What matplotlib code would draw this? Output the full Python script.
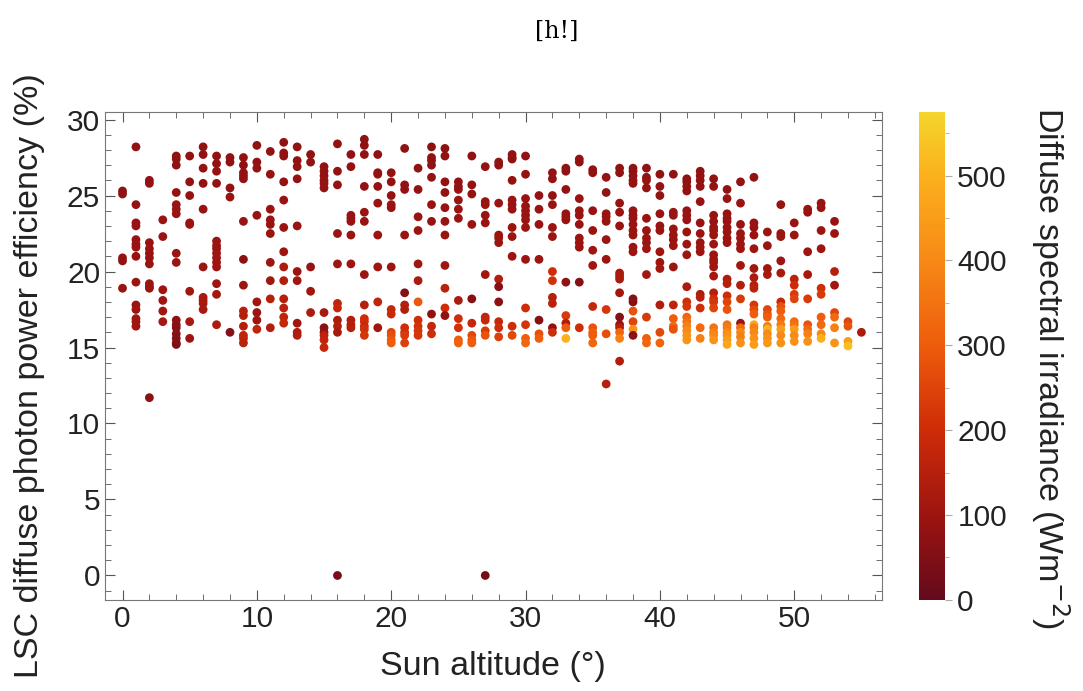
import matplotlib
matplotlib.use("Agg")
import matplotlib.pyplot as plt
from matplotlib.colors import LinearSegmentedColormap
from matplotlib.ticker import MultipleLocator

# sun altitude columns (deg)
sun_altitude = list(range(56))

# LSC diffuse photon power efficiency (%) per altitude column
efficiency = [
    [25.3, 25.1, 20.9, 20.7, 18.9],
    [28.2, 24.4, 23.2, 23.0, 22.1, 21.8, 21.6, 21.0, 19.3, 17.8, 17.5, 16.9, 16.7, 16.4],
    [26.0, 25.8, 21.9, 21.5, 21.2, 20.9, 20.5, 19.2, 19.0, 18.9, 11.7],
    [23.4, 22.3, 18.8, 18.1, 17.4, 16.7],
    [27.6, 27.4, 27.0, 25.2, 24.4, 24.1, 23.8, 21.2, 20.6, 16.8, 16.5, 16.3, 15.9, 15.6, 15.3, 15.2],
    [27.6, 25.9, 25.0, 23.2, 23.1, 18.7, 16.7, 15.6],
    [28.2, 27.7, 26.8, 25.8, 24.1, 20.3, 18.3, 18.1, 17.9, 17.5],
    [27.6, 27.1, 26.6, 25.8, 22.0, 21.7, 21.5, 21.2, 20.9, 20.6, 20.3, 19.2, 18.5, 16.5],
    [27.5, 27.2, 25.5, 24.9, 16.0],
    [27.5, 27.0, 26.5, 26.3, 26.1, 23.3, 20.8, 19.1, 17.4, 17.1, 16.4, 15.8, 15.6, 15.3],
    [28.3, 27.2, 26.8, 23.7, 18.0, 17.3, 16.8, 16.2],
    [27.9, 26.4, 24.1, 23.4, 23.1, 22.5, 20.6, 19.4, 18.2, 16.3],
    [28.5, 27.8, 27.6, 25.9, 24.7, 22.9, 21.3, 20.3, 19.4, 18.2, 17.6, 17.0, 16.6],
    [28.2, 27.3, 26.9, 26.1, 23.0, 20.0, 19.4, 16.6, 16.0, 15.8],
    [27.7, 27.2, 20.3, 18.7, 17.3],
    [26.9, 26.6, 26.3, 26.0, 25.8, 25.5, 17.3, 16.3, 16.0, 15.8, 15.5, 15.0],
    [28.4, 26.6, 25.7, 22.5, 20.5, 17.9, 17.6, 16.8, 16.4, 16.0, 0.0],
    [27.7, 26.9, 23.7, 23.5, 23.3, 22.4, 20.5, 16.8, 16.5, 16.3],
    [28.7, 28.3, 27.7, 25.6, 23.9, 23.3, 19.8, 17.8, 16.9, 16.7, 16.4, 16.2, 15.8],
    [27.7, 26.5, 26.4, 25.6, 24.5, 22.4, 20.3, 18.0, 16.3],
    [26.5, 25.9, 25.0, 24.4, 24.2, 20.3, 17.5, 17.2, 16.0, 15.8, 15.5, 15.3],
    [28.1, 25.7, 25.4, 22.4, 18.6, 17.8, 17.5, 16.3, 16.0, 15.8, 15.3],
    [26.8, 25.4, 23.6, 22.7, 20.5, 19.4, 18.0, 16.8, 16.4, 16.1, 15.8],
    [28.2, 27.5, 27.3, 27.0, 26.2, 24.4, 23.3, 17.2, 16.4, 15.9],
    [28.1, 27.6, 25.9, 25.2, 24.2, 23.3, 22.4, 20.4, 18.9, 17.6, 17.1],
    [25.9, 25.6, 25.4, 24.7, 24.1, 23.5, 18.1, 16.9, 16.3, 15.5, 15.3],
    [27.6, 25.7, 25.1, 23.1, 18.2, 16.6, 15.8, 15.5, 15.3],
    [26.9, 24.6, 24.4, 23.7, 23.2, 19.8, 17.0, 16.8, 16.1, 15.8, 0.0],
    [27.2, 27.0, 24.5, 22.4, 22.2, 21.9, 19.5, 19.0, 18.0, 16.7, 16.3, 15.7],
    [27.7, 27.5, 27.4, 26.0, 24.7, 24.4, 24.1, 22.9, 22.3, 21.0, 16.4, 15.8],
    [27.6, 26.4, 24.8, 24.3, 24.0, 23.7, 23.4, 22.9, 20.8, 17.6, 16.5, 15.6, 15.3],
    [25.0, 24.1, 23.1, 20.8, 16.8, 15.9, 15.6],
    [26.5, 26.1, 25.0, 24.4, 22.9, 22.3, 20.0, 19.4, 18.3, 17.9, 16.3, 16.0],
    [26.8, 26.6, 25.4, 23.8, 23.6, 23.4, 19.3, 17.1, 16.6, 16.3, 15.6],
    [27.4, 27.2, 24.8, 24.0, 23.7, 23.1, 22.2, 21.9, 21.6, 19.3, 16.3],
    [26.7, 26.5, 24.0, 22.7, 21.4, 20.4, 17.7, 16.3, 16.0, 15.8, 15.3],
    [26.2, 25.2, 23.8, 23.6, 23.3, 22.1, 20.8, 17.5, 15.9, 12.6],
    [26.8, 26.5, 24.5, 23.9, 23.0, 19.9, 19.7, 19.5, 18.6, 17.0, 16.5, 16.3, 16.0, 15.6, 14.1],
    [26.8, 26.6, 26.3, 26.0, 25.8, 24.0, 23.7, 23.5, 23.1, 22.7, 22.4, 21.6, 21.3, 18.2, 18.0, 17.4, 16.7, 16.2, 15.8],
    [26.8, 26.2, 26.0, 25.5, 23.5, 22.7, 22.2, 21.9, 21.5, 19.8, 17.0, 15.6, 15.3],
    [26.4, 25.6, 25.0, 23.8, 23.0, 22.7, 21.3, 20.6, 20.2, 17.8, 16.0, 15.3],
    [26.4, 23.9, 23.7, 22.8, 22.4, 22.1, 21.7, 20.3, 17.8, 16.9, 16.4, 16.2],
    [26.1, 25.9, 25.6, 25.3, 24.0, 23.7, 23.4, 22.6, 21.8, 21.1, 19.0, 18.0, 17.7, 17.0, 16.7, 16.4, 16.1, 15.8, 15.5],
    [26.6, 26.3, 26.0, 25.6, 24.6, 23.2, 22.5, 21.9, 21.6, 21.3, 18.5, 18.3, 17.6, 16.3, 15.6],
    [26.1, 25.6, 23.7, 23.3, 22.9, 22.7, 22.4, 21.8, 21.1, 20.8, 20.6, 20.3, 19.7, 18.6, 18.2, 18.0, 17.6, 16.3, 16.0, 15.8, 15.5],
    [25.4, 24.8, 23.8, 23.5, 23.3, 22.9, 22.6, 22.2, 21.9, 19.5, 19.2, 18.4, 18.0, 17.5, 16.5, 16.3, 16.0, 15.8, 15.5, 15.2],
    [25.9, 24.5, 23.1, 22.5, 22.2, 21.8, 21.5, 20.4, 19.1, 18.2, 16.6, 16.3, 16.0, 15.7, 15.3],
    [26.2, 23.2, 22.9, 22.4, 21.5, 20.2, 19.6, 19.1, 18.9, 17.8, 17.5, 17.2, 16.5, 16.3, 16.0, 15.6, 15.2],
    [22.6, 21.7, 20.2, 19.8, 17.5, 17.2, 17.0, 16.4, 16.2, 15.9, 15.6, 15.3],
    [24.4, 22.5, 22.3, 20.7, 19.9, 18.0, 17.7, 17.4, 16.9, 16.5, 16.2, 15.8, 15.3],
    [23.2, 22.4, 19.5, 19.1, 18.5, 18.2, 16.7, 16.5, 16.2, 15.8, 15.4],
    [24.1, 23.9, 21.3, 19.8, 18.2, 16.5, 16.2, 15.9, 15.4],
    [24.5, 24.2, 22.7, 21.5, 18.9, 18.5, 17.0, 16.5, 15.9, 15.6],
    [23.3, 22.5, 20.0, 19.1, 17.3, 17.0, 16.3, 15.3],
    [16.7, 16.4, 15.4, 15.1],
    [16.0],
]

# diffuse spectral irradiance (W m^-2) for each point above
irradiance = [
    [80, 80, 85, 85, 90],
    [80, 85, 90, 90, 90, 90, 90, 90, 95, 100, 100, 105, 105, 105],
    [85, 85, 90, 90, 90, 90, 90, 95, 95, 95, 70],
    [90, 95, 100, 105, 110, 115],
    [80, 80, 80, 85, 90, 90, 90, 95, 95, 70, 70, 65, 60, 55, 50, 50],
    [80, 85, 85, 90, 90, 110, 120, 100],
    [80, 80, 85, 85, 90, 100, 120, 120, 125, 125],
    [80, 80, 85, 85, 95, 95, 95, 100, 100, 100, 100, 105, 115, 130],
    [80, 80, 85, 90, 60],
    [80, 80, 85, 85, 85, 90, 70, 100, 150, 150, 150, 170, 170, 160],
    [80, 80, 85, 90, 110, 100, 100, 170],
    [80, 85, 90, 90, 90, 95, 100, 110, 150, 140],
    [75, 80, 80, 85, 90, 95, 100, 130, 140, 150, 160, 170, 180],
    [80, 80, 80, 85, 90, 100, 110, 110, 130, 140],
    [80, 80, 90, 110, 130],
    [85, 85, 85, 85, 85, 85, 120, 70, 80, 160, 170, 180],
    [80, 85, 85, 90, 100, 170, 180, 130, 140, 120, 40],
    [80, 85, 90, 90, 90, 95, 100, 140, 150, 150],
    [75, 80, 80, 85, 90, 90, 100, 150, 200, 200, 190, 210, 220],
    [80, 85, 85, 85, 90, 95, 100, 170, 110],
    [85, 85, 85, 90, 90, 100, 180, 190, 250, 270, 290, 300],
    [80, 85, 85, 95, 60, 150, 140, 200, 200, 230, 240],
    [80, 85, 90, 95, 110, 130, 290, 200, 210, 220, 220],
    [75, 80, 80, 80, 85, 90, 90, 80, 180, 200],
    [75, 80, 85, 85, 90, 90, 95, 110, 160, 200, 80],
    [85, 85, 85, 90, 90, 90, 130, 200, 210, 300, 310],
    [80, 85, 85, 90, 60, 180, 260, 290, 300],
    [85, 90, 90, 90, 90, 110, 170, 180, 230, 280, 30],
    [80, 80, 90, 95, 95, 95, 140, 60, 70, 180, 200, 240],
    [80, 80, 80, 85, 90, 90, 90, 95, 95, 100, 200, 260],
    [80, 85, 90, 90, 90, 90, 90, 95, 100, 200, 220, 300, 320],
    [85, 90, 90, 100, 60, 270, 300],
    [85, 85, 85, 90, 95, 95, 200, 210, 150, 160, 80, 200],
    [80, 80, 85, 90, 90, 90, 80, 230, 140, 300, 500],
    [80, 80, 90, 90, 90, 90, 95, 95, 95, 60, 200],
    [80, 80, 90, 95, 100, 110, 180, 280, 300, 300, 320],
    [85, 85, 90, 90, 90, 95, 100, 220, 270, 150],
    [80, 80, 90, 90, 90, 120, 130, 130, 110, 60, 90, 150, 320, 380, 140],
    [80, 80, 80, 85, 85, 90, 90, 90, 90, 95, 95, 100, 100, 60, 60, 280, 250, 420, 70],
    [80, 80, 85, 85, 90, 95, 95, 95, 100, 110, 230, 300, 320],
    [80, 85, 85, 90, 90, 95, 100, 100, 110, 140, 260, 320],
    [80, 90, 90, 95, 95, 95, 100, 100, 170, 300, 330, 280],
    [80, 80, 85, 85, 90, 90, 90, 95, 100, 100, 130, 200, 220, 320, 350, 380, 400, 420, 430],
    [80, 80, 85, 85, 90, 90, 95, 95, 100, 100, 130, 150, 200, 330, 380],
    [80, 85, 90, 90, 90, 95, 95, 100, 100, 100, 110, 110, 120, 150, 200, 220, 250, 350, 380, 400, 430],
    [85, 90, 90, 90, 90, 95, 95, 95, 100, 130, 150, 200, 250, 280, 350, 370, 400, 420, 450, 470],
    [85, 90, 90, 95, 95, 100, 100, 110, 140, 230, 90, 330, 400, 380, 420],
    [80, 90, 90, 95, 100, 110, 130, 150, 160, 220, 260, 300, 480, 380, 400, 420, 450],
    [95, 100, 110, 120, 250, 280, 300, 380, 500, 400, 420, 440],
    [90, 95, 95, 100, 120, 180, 280, 300, 330, 370, 450, 400, 420],
    [90, 95, 160, 200, 230, 250, 330, 350, 450, 400, 420],
    [90, 90, 100, 120, 230, 280, 330, 380, 420],
    [90, 90, 95, 100, 200, 230, 300, 330, 400, 500],
    [90, 95, 150, 110, 250, 330, 380, 430],
    [250, 280, 450, 530],
    [130],
]

xs, ys, cs = [], [], []
for alt, effs, irrs in zip(sun_altitude, efficiency, irradiance):
    for e, c in zip(effs, irrs):
        xs.append(alt)
        ys.append(e)
        cs.append(c)

solar = LinearSegmentedColormap.from_list(
    "solar",
    [(0.0, "#640a1c"), (0.17, "#9c1410"), (0.35, "#cf2c08"),
     (0.52, "#ee5c0c"), (0.70, "#f78a16"), (0.87, "#fbb01c"), (1.0, "#f4d52c")])

plt.rcParams['font.family'] = ['Liberation Sans', 'DejaVu Sans']

fig = plt.figure(figsize=(10.83, 6.91), dpi=100)
ax = fig.add_axes([0.097, 0.132, 0.717, 0.706])
sc = ax.scatter(xs, ys, c=cs, cmap=solar, vmin=0, vmax=575, s=40,
                edgecolors='none')

ax.set_xlim(-1.3, 56.5)
ax.set_ylim(-1.6, 30.5)
ax.xaxis.set_major_locator(MultipleLocator(10))
ax.xaxis.set_minor_locator(MultipleLocator(2))
ax.yaxis.set_major_locator(MultipleLocator(5))
ax.yaxis.set_minor_locator(MultipleLocator(1))
ax.tick_params(which='both', direction='in', top=True, right=True,
               color='#555555', labelsize=21.5, labelcolor='#222222')
ax.tick_params(which='major', length=7)
ax.tick_params(which='minor', length=4)
for sp in ax.spines.values():
    sp.set_color('#777777')

ax.set_xlabel('Sun altitude (°)', fontsize=24.5, color='#222222', va='center')
ax.xaxis.set_label_coords(0.5, -0.137)
ax.set_ylabel('LSC diffuse photon power efficiency (%)', fontsize=24.5,
              color='#222222', va='center')
ax.yaxis.set_label_coords(-0.097, 0.46)

cax = fig.add_axes([0.849, 0.132, 0.024, 0.706])
cb = fig.colorbar(sc, cax=cax)
cb.outline.set_visible(False)
cb.set_ticks([0, 100, 200, 300, 400, 500])
cb.ax.yaxis.set_minor_locator(MultipleLocator(50))
cb.ax.tick_params(which='both', direction='out', color='#aaaaaa',
                  labelsize=21.5, labelcolor='#222222')
cb.ax.tick_params(which='major', length=5)
cb.ax.tick_params(which='minor', length=3)
fig.text(1050 / 1083, 1 - 368 / 691, 'Diffuse spectral irradiance (Wm$^{-2}$)',
         fontsize=24.5, color='#222222', rotation=-90, ha='center', va='center')

fig.text(0.514, 0.955, '[h!]', fontsize=17, family='DejaVu Serif',
         ha='center', va='center')

plt.savefig('out.png', dpi=100)
